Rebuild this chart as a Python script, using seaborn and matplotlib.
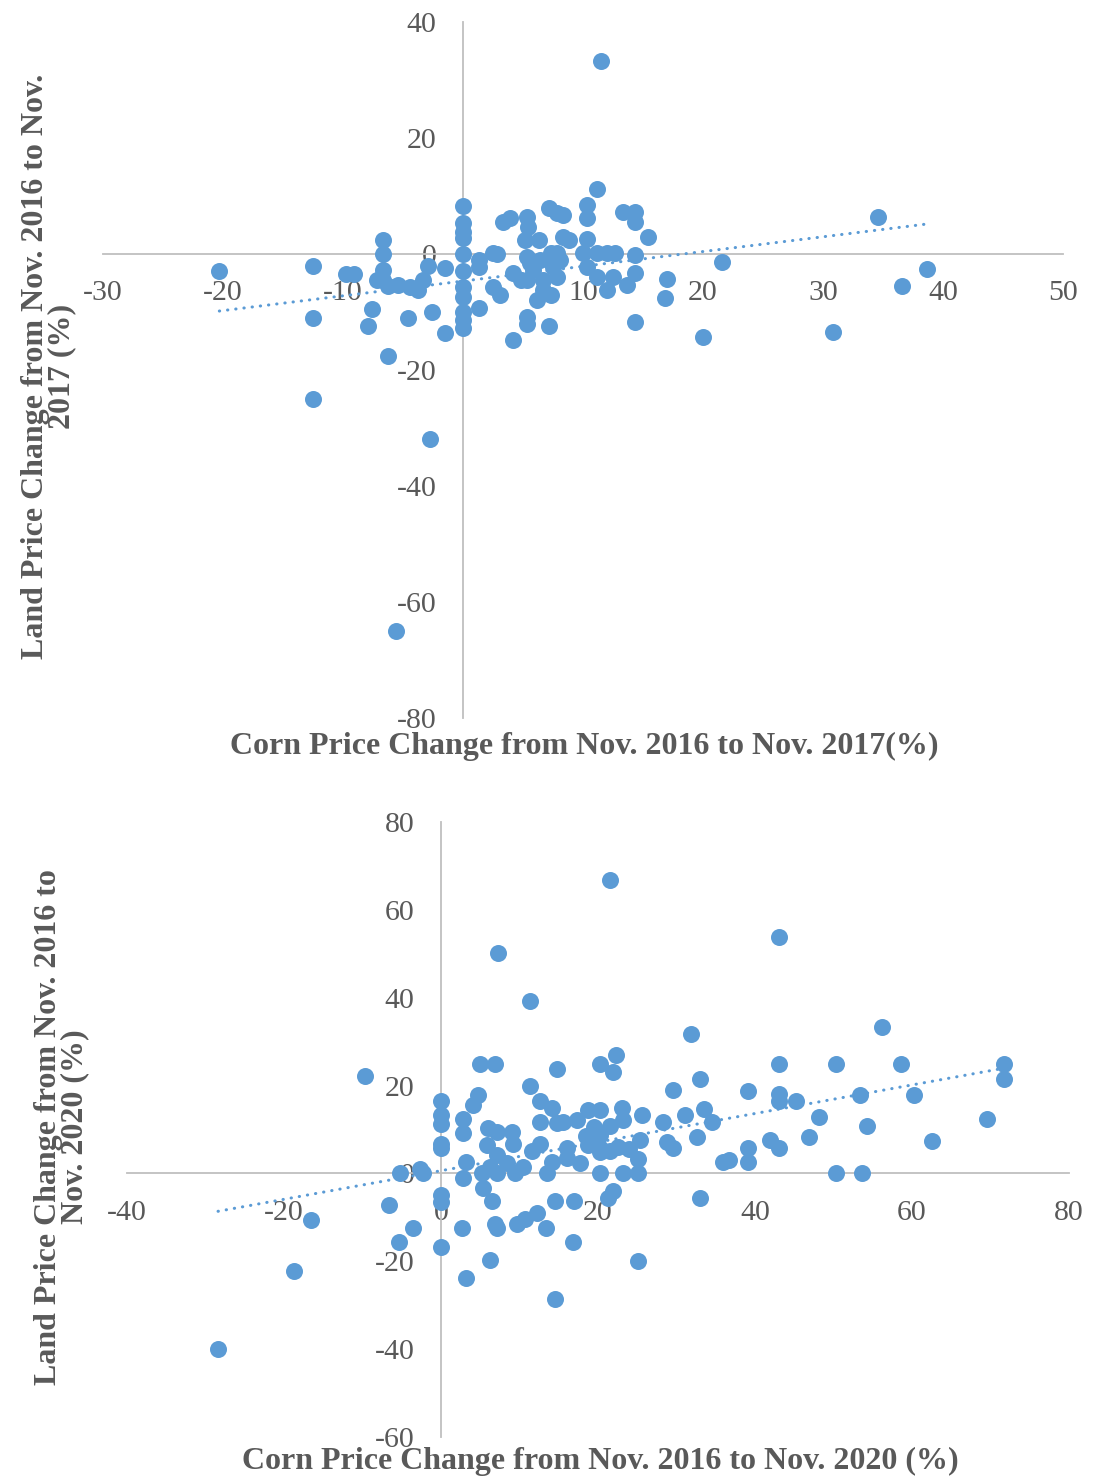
import numpy as np
import matplotlib
matplotlib.use("Agg")
import matplotlib.pyplot as plt
import seaborn as sns

sns.set_theme(style="white")
plt.rcParams['font.family'] = ['Liberation Serif', 'DejaVu Serif']
plt.rcParams['axes.unicode_minus'] = False

# corn vs land price change, Nov 2016 -> Nov 2017 (%)
corn_2017 = [-20.3, -12.5, -12.5, -12.5, -9.75, -9.1, -6.7, -6.7, -6.7, -6.7, -7.2, -6.25, -5.4,
             -4.4, -3.75, -3.3, -7.6, -7.9, -6.25, -4.6, -2.6, -1.5, -2.9, -1.5, -2.75, -5.6,
             0, 0, 0, 0, 0, 0, 0, 0, 0, 0, 0,
             3.3, 3.9, 1.3, 1.3, 2.5, 2.8, 2.5, 3.1, 4.2, 1.3, 4.2, 5.3, 5.3, 7.2,
             5.3, 5.4, 5.2, 5.3, 5.6, 5.8, 6.3, 7.2, 7.8, 8.3, 7.3, 7.8, 8.3, 8.8, 8.1, 7.5,
             6.7, 6.7, 6.2, 7.3, 7.8, 5.3, 4.8, 6.4,
             11.2, 10.3, 10.3, 10.3, 10.0, 11.2, 12.0, 12.7, 10.3, 11.2, 12.0, 12.5, 13.3, 14.3,
             14.3, 15.4, 14.3, 14.3, 13.7, 14.3, 17.0, 16.8, 20.0,
             11.5, 21.6, 34.6, 38.7, 36.6, 30.8]
land_2017 = [-2.9, -2, -11, -25, -3.4, -3.4, 2.4, 0, -2.8, -4.5, -4.5, -5.5, -5.3,
             -5.7, -6.2, -4.5, -9.5, -12.4, -17.6, -11, -10, -13.6, -2.0, -2.4, -31.9, -65,
             8.3, 5.3, 3.8, 2.8, 0, -3, -5.7, -7.4, -10, -11.4, -12.8,
             5.5, 6.2, -1, -2.2, 0.2, 0, -5.7, -7, -3.3, -9.3, -14.8, -10.9, -12, -12.4,
             6.4, 4.7, 2.4, -0.5, -1.6, -2.8, 2.4, 7.9, 7, 6.7, 0.2, 0.2, 2.9, 2.4, -1, -2.2,
             -4.5, -6.2, -8, -7, -4, -4.5, -4.5, -1,
             11.2, 8.4, 6.2, 2.6, 0.2, 0.2, 0.2, 0.2, -2.2, -4, -6.2, -4, 7.2, 7.2,
             5.5, 2.9, -0.2, -3.3, -5.3, -11.7, -4.3, -7.6, -14.3,
             33.3, -1.4, 6.4, -2.6, -5.5, -13.4]

# corn vs land price change, Nov 2016 -> Nov 2020 (%)
corn_2020 = [-9.7, -28.4, -18.7, -16.6, -6.6, -5.2, -2.7, -2.3, -3.6, -5.4,
             0, 0, 0, 0, 0, 0, 0, 0,
             2.8, 2.8, 3.2, 2.8, 2.7, 3.2, 4.1, 4.7, 5.0, 6.9,
             6.0, 7.1, 9.0, 9.2, 5.9, 7.1, 6.2, 5.2, 7.1, 8.4, 9.4, 10.4,
             5.4, 6.5, 6.9, 7.1, 6.2, 9.7, 10.7, 12.2, 13.4, 14.5, 17.0, 16.8, 14.5, 25.1,
             13.5, 14.1, 11.3, 12.6, 14.1, 12.6, 14.8, 15.5, 14.8, 11.6, 12.6, 16.0, 16.0, 17.7,
             17.3, 18.7, 20.3, 18.7, 20.3, 20.3, 21.5, 20.3, 23.2, 25.1, 25.1, 25.3, 23.0, 23.2,
             25.6, 20.3, 22.3, 21.9, 21.9, 21.3, 19.5, 20.3, 18.5, 21.5, 22.5, 24.0,
             28.3, 28.8, 29.6, 29.6, 31.1, 31.8, 33.0, 33.0, 32.6,
             43.1, 56.2, 43.1, 50.3, 58.6, 71.7, 71.7, 39.1, 43.1, 43.1, 45.2, 53.4, 60.3, 48.2,
             33.5, 34.5, 54.3, 69.6, 46.9, 41.9, 43.1, 39.1, 62.5, 35.9, 36.7, 39.1, 50.3, 53.6,
             7.3, 11.3, 21.5]
land_2020 = [22.1, -39.9, -22.3, -10.7, -7.1, 0, 0.9, 0, -12.5, -15.7,
             16.6, 13.2, 11.2, 6.8, 5.7, -5, -6.6, -16.8,
             12.5, 9.1, 2.5, -1.1, -12.5, -23.7, 15.5, 17.8, 25, 25,
             10.3, 9.4, 9.4, 6.8, 6.4, 4.1, 1.4, 0, 0, 2.3, 0, 1.4,
             -3.4, -6.2, -11.4, -12.5, -19.8, -11.4, -10.3, -8.9, -12.5, -6.2, -6.2, -15.5, -28.5, -20,
             0, 2.5, 20, 16.6, 15, 11.6, 11.4, 11.6, 23.7, 5.2, 6.8, 5.9, 3.6, 2.3,
             12.1, 14.4, 14.4, 6.4, 5.9, 4.8, 5.2, 0, 0, 0, 3.4, 7.5, 14.8, 12.1,
             13.2, 25, 26.9, 23, -3.9, -5.5, 10.5, 8.7, 8.5, 10.8, 6.0, 5.5,
             11.6, 7.1, 5.9, 19.1, 13.2, 31.7, 21.6, -5.7, 8.2,
             53.8, 33.3, 25, 25, 25, 25, 21.4, 18.7, 18, 16.6, 16.6, 17.8, 17.8, 12.8,
             14.6, 11.8, 10.7, 12.5, 8.4, 7.7, 5.9, 5.9, 7.3, 2.5, 3, 2.5, 0, 0,
             50.1, 39.2, 66.7]

blue = "#5b9bd5"
grey_txt = "#595959"
axis_grey = "#bfbfbf"

fig = plt.figure(figsize=(10.94, 14.79), dpi=100)
ax1 = fig.add_axes([0.0941, 0.5145, 0.8775, 0.4706])
ax2 = fig.add_axes([0.1161, 0.0284, 0.8610, 0.4158])


def style_axes(ax, xlim, ylim, xstep, ystep):
    ax.set_xlim(*xlim)
    ax.set_ylim(*ylim)
    ax.set_xticks(np.arange(xlim[0], xlim[1] + 1, xstep))
    ax.set_yticks(np.arange(ylim[0], ylim[1] + 1, ystep))
    for s in ["top", "right"]:
        ax.spines[s].set_visible(False)
    ax.spines["left"].set_position(("data", 0))
    ax.spines["bottom"].set_position(("data", 0))
    for s in ["left", "bottom"]:
        ax.spines[s].set_color(axis_grey)
        ax.spines[s].set_linewidth(1.3)
    ax.tick_params(length=0, labelsize=21.5, labelcolor=grey_txt, pad=19)
    ax.set_xlabel("")
    ax.set_ylabel("")
    ax.grid(False)
    ax.patch.set_alpha(0)


def draw(ax, x, y):
    x = np.array(x, dtype=float)
    y = np.array(y, dtype=float)
    sns.scatterplot(x=x, y=y, ax=ax, color=blue, s=150, linewidth=0, zorder=3)
    k, b = np.polyfit(x, y, 1)
    xs = np.array([x.min(), x.max()])
    ax.plot(xs, k * xs + b, color=blue, lw=2.2, linestyle=(0, (0.1, 2.6)),
            dash_capstyle="round", zorder=4)


draw(ax1, corn_2017, land_2017)
style_axes(ax1, (-30, 50), (-80, 40), 10, 20)
draw(ax2, corn_2020, land_2020)
style_axes(ax2, (-40, 80), (-60, 80), 20, 20)

lbl = dict(fontsize=23, fontweight="bold", color=grey_txt, ha="center", va="center")
fig.text(0.534, 0.4956, "Corn Price Change from Nov. 2016 to Nov. 2017(%)", **lbl)
fig.text(0.0443, 0.752, "Land Price Change from Nov. 2016 to Nov.\n2017 (%)",
         rotation=90, linespacing=0.85, multialignment="center", **lbl)
fig.text(0.5484, 0.0122, "Corn Price Change from Nov. 2016 to Nov. 2020 (%)", **lbl)
fig.text(0.0562, 0.238, "Land Price Change from Nov. 2016 to\nNov. 2020 (%)",
         rotation=90, linespacing=0.85, multialignment="center", **lbl)

fig.savefig("out.png", dpi=100)
